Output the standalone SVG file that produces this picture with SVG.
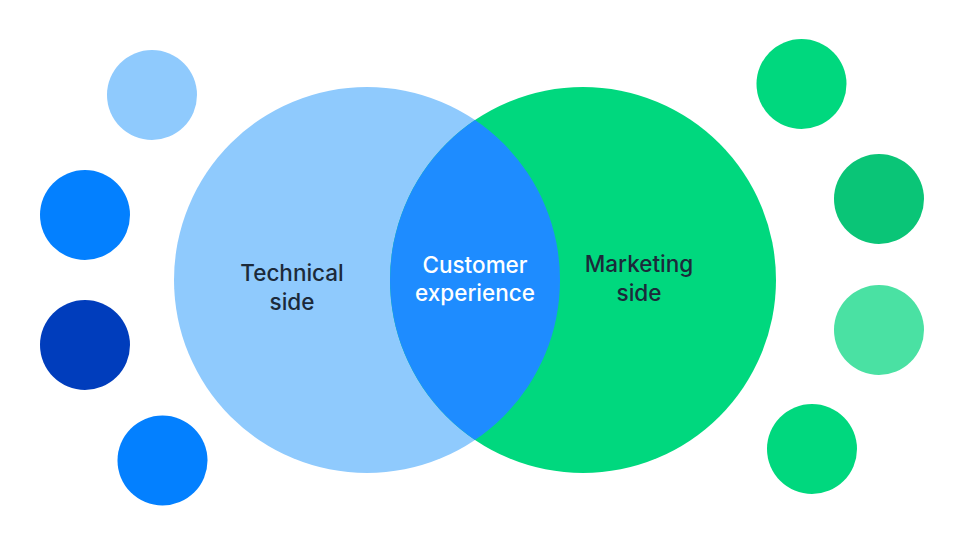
<svg xmlns="http://www.w3.org/2000/svg" width="960" height="540" viewBox="0 0 960 540">
<defs>
<style>
.lbl{font-family:Inter,"Open Sans","Liberation Sans",sans-serif;font-size:22.5px;font-weight:500;text-anchor:middle}
.dark{fill:#1c2a3a}
.white{fill:#ffffff}
</style>
<clipPath id="clipL"><circle cx="367" cy="280" r="193"/></clipPath>
</defs>
<rect width="960" height="540" fill="#ffffff"/>
<g id="technical-side">
<circle cx="367" cy="280" r="193" fill="#8fcafd"/>
</g>
<g id="marketing-side">
<circle cx="583" cy="280" r="193" fill="#00d87e"/>
</g>
<g id="customer-experience">
<circle cx="583" cy="280" r="193" fill="#1e8cff" clip-path="url(#clipL)"/>
</g>
<g id="labels">
<text class="lbl dark" x="292" y="281">Technical</text>
<text class="lbl dark" x="292" y="310">side</text>
<text class="lbl white" x="475" y="273">Customer</text>
<text class="lbl white" x="475" y="301">experience</text>
<text class="lbl dark" x="639" y="272">Marketing</text>
<text class="lbl dark" x="639" y="301">side</text>
</g>
<g id="dot-l1"><circle cx="152" cy="95" r="45" fill="#8fcafd"/></g>
<g id="dot-l2"><circle cx="85" cy="215" r="45" fill="#0380ff"/></g>
<g id="dot-l3"><circle cx="85" cy="345" r="45" fill="#003dbc"/></g>
<g id="dot-l4"><circle cx="162.5" cy="460.5" r="45" fill="#0380ff"/></g>
<g id="dot-r1"><circle cx="801.5" cy="84" r="45" fill="#00d87e"/></g>
<g id="dot-r2"><circle cx="879" cy="199" r="45" fill="#0ac577"/></g>
<g id="dot-r3"><circle cx="879" cy="330" r="45" fill="#4ae1a3"/></g>
<g id="dot-r4"><circle cx="812" cy="449" r="45" fill="#00d87e"/></g>
<g id="connectors"></g>
</svg>
